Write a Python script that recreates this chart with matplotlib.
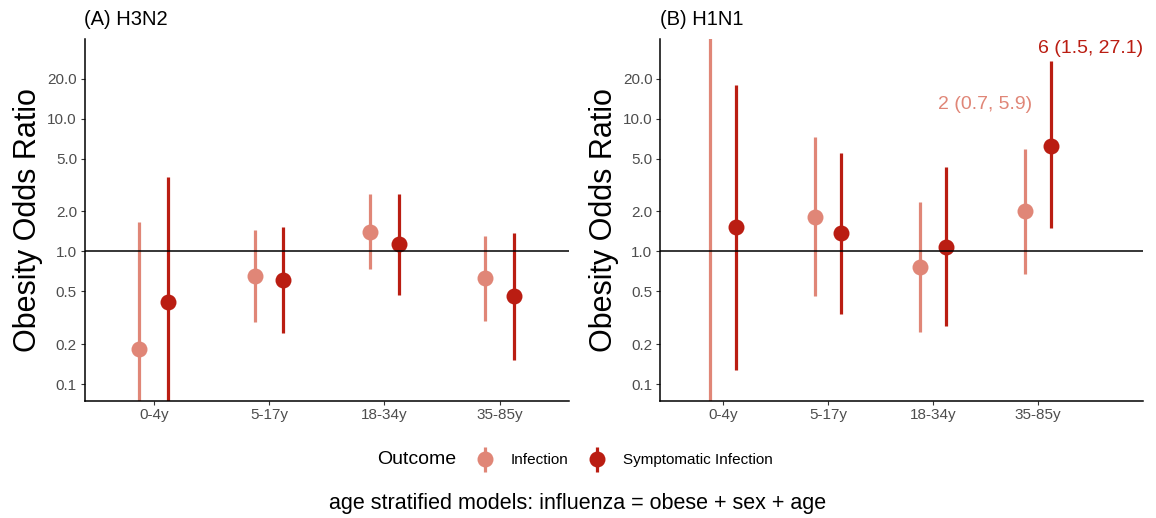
import numpy as np
import matplotlib
matplotlib.use("Agg")
import matplotlib.pyplot as plt
from matplotlib.lines import Line2D
from matplotlib.legend_handler import HandlerTuple

plt.rcParams["font.family"] = ["Liberation Sans", "DejaVu Sans"]

age_groups = ["0-4y", "5-17y", "18-34y", "35-85y"]
outcomes = ["Infection", "Symptomatic Infection"]
colors = ["#E08677", "#BA1D12"]

# odds ratio estimates and 95% CI, per outcome, per age group
h3n2_est = {"Infection": [0.185, 0.65, 1.41, 0.63],
            "Symptomatic Infection": [0.414, 0.605, 1.14, 0.46]}
h3n2_lo = {"Infection": [0.02, 0.293, 0.737, 0.301],
           "Symptomatic Infection": [0.03, 0.242, 0.47, 0.153]}
h3n2_hi = {"Infection": [1.66, 1.44, 2.70, 1.30],
           "Symptomatic Infection": [3.64, 1.53, 2.73, 1.38]}

h1n1_est = {"Infection": [np.nan, 1.83, 0.763, 2.0],
            "Symptomatic Infection": [1.53, 1.38, 1.08, 6.2]}
h1n1_lo = {"Infection": [0.01, 0.459, 0.246, 0.68],
           "Symptomatic Infection": [0.127, 0.34, 0.276, 1.5]}
h1n1_hi = {"Infection": [100.0, 7.25, 2.35, 5.88],
           "Symptomatic Infection": [18.1, 5.55, 4.31, 27.1]}

# labelled estimates in the H1N1 panel: (outcome, age group index, x, y)
h1n1_labels = [("Infection", 3, 3.5, 12.9),
               ("Symptomatic Infection", 3, 4.5, 33.9)]

panels = [("(A) H3N2", h3n2_est, h3n2_lo, h3n2_hi, None, 4.6),
          ("(B) H1N1", h1n1_est, h1n1_lo, h1n1_hi, h1n1_labels, 5.0)]

W, H = 1156, 518
fig = plt.figure(figsize=(W / 100, H / 100), dpi=100)
ax_boxes = [(84.5, 569), (660, 1143)]
top_px, bot_px = 39, 400.5

dodge = 0.125
x = np.arange(1, len(age_groups) + 1)
ticks = [0.1, 0.2, 0.5, 1.0, 2.0, 5.0, 10.0, 20.0]

for (title, est, lo, hi, labels, xmax), (l, r) in zip(panels, ax_boxes):
    ax = fig.add_axes([l / W, 1 - bot_px / H, (r - l) / W, (bot_px - top_px) / H])
    for k, name in enumerate(outcomes):
        xs = x + (k - 0.5) * 2 * dodge
        ax.vlines(xs, lo[name], hi[name], color=colors[k], lw=2.3, zorder=2)
        ax.plot(xs, est[name], "o", color=colors[k], ms=11.5, mew=0, zorder=2.5)
    ax.axhline(1.0, color="black", lw=1.1, zorder=3)

    if labels:
        for name, i, tx, ty in labels:
            txt = f"{est[name][i]:.0f} ({lo[name][i]:.1f}, {hi[name][i]:.1f})"
            ax.text(tx, ty, txt, color=colors[outcomes.index(name)],
                    fontsize=14, ha="center", va="center", clip_on=False)

    ax.set_yscale("log")
    span = np.log10(30) - np.log10(0.1)
    ax.set_ylim(10 ** (-1 - 0.05 * span), 10 ** (np.log10(30) + 0.05 * span))
    ax.set_xlim(0.4, xmax)
    ax.set_yticks(ticks)
    ax.set_yticklabels([f"{t:.1f}" for t in ticks])
    ax.yaxis.set_minor_locator(matplotlib.ticker.NullLocator())
    ax.set_xticks(x)
    ax.set_xticklabels(age_groups)
    ax.tick_params(axis="both", labelsize=11, labelcolor="#4D4D4D",
                   color="#333333", length=3.2, width=0.8, pad=2.2)
    for side in ["top", "right"]:
        ax.spines[side].set_visible(False)
    for side in ["left", "bottom"]:
        ax.spines[side].set_linewidth(1.1)
    ax.set_ylabel("Obesity Odds Ratio", fontsize=22, labelpad=3)
    ax.set_title(title, loc="left", fontsize=14.5, pad=10)

handles = []
for c in colors:
    bar = Line2D([], [], marker="|", ms=18, mew=2.3, ls="none", color=c)
    dot = Line2D([], [], marker="o", ms=11.5, mew=0, ls="none", color=c)
    handles.append((bar, dot))
fig.legend(handles, outcomes, handler_map={tuple: HandlerTuple(ndivide=1)},
           ncol=2, loc="center left", bbox_to_anchor=(464.8 / W, 1 - 460 / H),
           frameon=False, fontsize=11, borderpad=0, handlelength=1.6,
           handletextpad=0.87, columnspacing=1.13)
fig.text(377 / W, 1 - 460 / H, "Outcome", fontsize=14, ha="left", va="center")
fig.text(0.5, 1 - 503 / H, "age stratified models: influenza = obese + sex + age",
         fontsize=15.5, ha="center", va="center")

fig.savefig("out.png", dpi=100)
